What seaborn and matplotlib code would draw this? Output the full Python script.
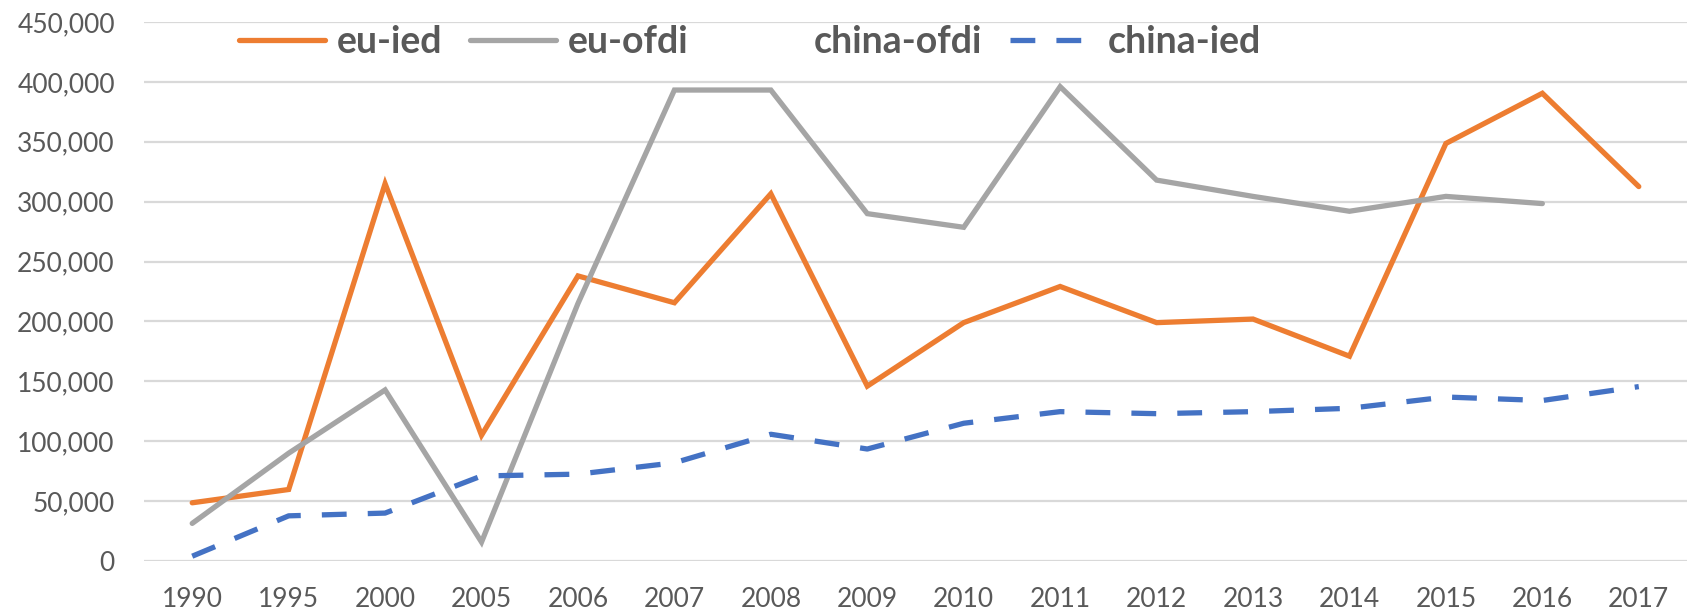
import numpy as np
import pandas as pd
import seaborn as sns
import matplotlib.pyplot as plt
from matplotlib.lines import Line2D
from matplotlib.ticker import FuncFormatter

years = ['1990', '1995', '2000', '2005', '2006', '2007', '2008', '2009',
         '2010', '2011', '2012', '2013', '2014', '2015', '2016', '2017']
eu_ied = [48600, 59700, 315000, 105000, 238000, 215600, 306600, 146000,
          199000, 229200, 199000, 202000, 171000, 348600, 390500, 312600]
eu_ofdi = [31400, 90000, 142800, 15800, 215000, 393200, 393200, 290000,
           278600, 396000, 318000, 304400, 292000, 304400, 298400, np.nan]
china_ied = [4000, 37700, 40000, 71000, 72500, 82000, 105800, 93500,
             115000, 124700, 123000, 124700, 127500, 136900, 134000, 145600]

series = ['eu-ied', 'eu-ofdi', 'china-ied']
colors = {'eu-ied': '#ED7D31', 'eu-ofdi': '#A5A5A5', 'china-ied': '#4472C4'}
dashes = {'eu-ied': '', 'eu-ofdi': '', 'china-ied': (4.7, 4.0)}

df = pd.DataFrame({'year': years, 'pos': range(len(years)),
                   'eu-ied': eu_ied, 'eu-ofdi': eu_ofdi, 'china-ied': china_ied})
long = df.melt(id_vars=['year', 'pos'], value_vars=series,
               var_name='series', value_name='value').dropna()

sns.set_style('white')
plt.rcParams['font.family'] = ['Lato', 'DejaVu Sans']

fig = plt.figure(figsize=(16.88, 6.15), dpi=100)
ax = fig.add_axes([144 / 1688, 54 / 615, 1543 / 1688, 539 / 615])

sns.lineplot(data=long, x='pos', y='value', hue='series', style='series',
             hue_order=series, style_order=series, palette=colors,
             dashes=dashes, linewidth=3.8, legend=False, ax=ax)
for ln in ax.get_lines():
    ln.set_solid_capstyle('round')
    ln.set_dash_capstyle('butt')
    ln.set_solid_joinstyle('miter')

ax.set_xlim(-0.5, len(years) - 0.5)
ax.set_ylim(0, 450000)
ax.set_yticks(np.arange(0, 450001, 50000))
ax.yaxis.set_major_formatter(FuncFormatter(lambda v, p: f'{int(v):,}'))
ax.set_xticks(range(len(years)))
ax.set_xticklabels(years)
ax.set_xlabel('')
ax.set_ylabel('')
ax.grid(axis='y', color='#D9D9D9', linewidth=1.6)
ax.grid(axis='x', visible=False)
ax.set_axisbelow(True)
for s in ax.spines.values():
    s.set_visible(False)
ax.tick_params(axis='both', length=0, labelsize=19, colors='#595959')
ax.tick_params(axis='y', pad=21)
ax.tick_params(axis='x', pad=19)

handles = [Line2D([], [], color=colors['eu-ied'], lw=3.8, solid_capstyle='round'),
           Line2D([], [], color=colors['eu-ofdi'], lw=3.8, solid_capstyle='round'),
           Line2D([], [], color='none', lw=3.8),
           Line2D([], [], color=colors['china-ied'], lw=3.8, dashes=(4.7, 4.0),
                  dash_capstyle='butt')]
labels = ['eu-ied', 'eu-ofdi', 'china-ofdi', 'china-ied']
leg = ax.legend(handles, labels, ncol=4, frameon=False, loc='center left',
                bbox_to_anchor=(0.0616, 0.963), borderpad=0, borderaxespad=0,
                handlelength=2.3, handletextpad=0.3, columnspacing=0.75,
                prop={'size': 27, 'weight': 'bold'})
for t in leg.get_texts():
    t.set_color('#595959')

fig.savefig('out.png', dpi=100)
